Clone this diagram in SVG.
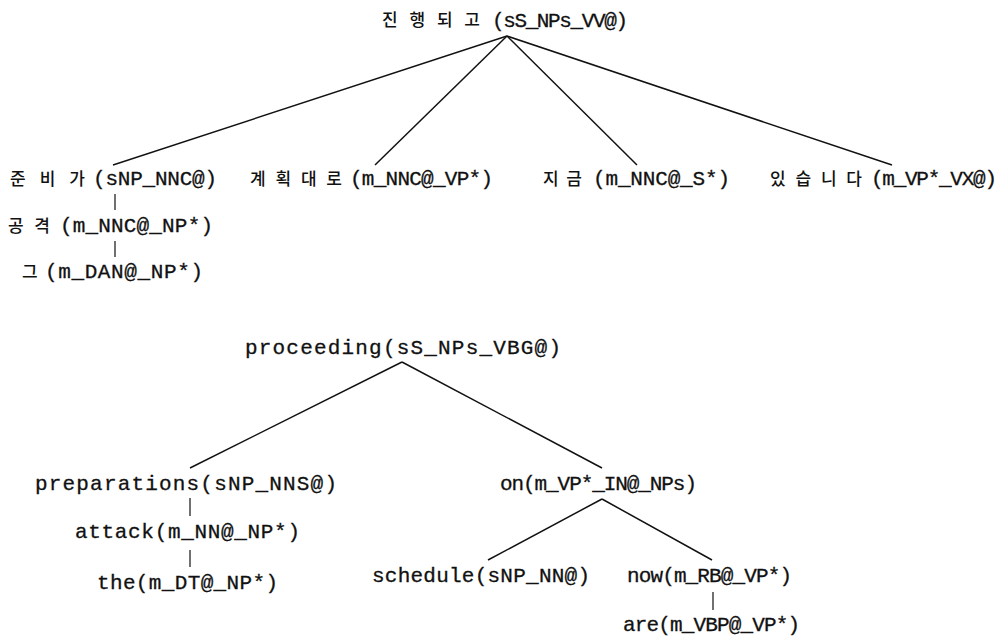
<svg xmlns="http://www.w3.org/2000/svg" width="1006" height="637" viewBox="0 0 1006 637">
<style>
.t{font-family:"Liberation Mono","DejaVu Sans Mono",monospace;font-size:21px;fill:#111;stroke:#111;stroke-width:0.3}
.k{font-family:"Noto Sans CJK KR","Noto Sans",sans-serif;font-size:17px;font-weight:500;fill:#111}
.e{stroke:#111;stroke-width:1.5;fill:none}
.v{stroke:#111;stroke-width:1.2;fill:none}
</style>
<rect width="1006" height="637" fill="#fff"/>
<g id="connectors">
<line class="e" x1="507" y1="36" x2="113" y2="165"/>
<line class="e" x1="507" y1="36" x2="375" y2="165"/>
<line class="e" x1="507" y1="36" x2="637" y2="165"/>
<line class="e" x1="507" y1="36" x2="892" y2="165"/>
<line class="v" x1="115" y1="194" x2="115" y2="210"/>
<line class="v" x1="115" y1="241" x2="115" y2="257"/>
<line class="e" x1="402" y1="362" x2="190" y2="468"/>
<line class="e" x1="402" y1="362" x2="602" y2="468"/>
<line class="v" x1="190" y1="498" x2="190" y2="516"/>
<line class="v" x1="190" y1="550" x2="190" y2="567"/>
<line class="e" x1="602" y1="499" x2="488" y2="560"/>
<line class="e" x1="602" y1="499" x2="712" y2="560"/>
<line class="v" x1="713" y1="592" x2="713" y2="610"/>
</g>
<g id="n-root-ko"><text class="k" x="382" y="26" textLength="98" lengthAdjust="spacing">진행되고</text><text class="t" x="492" y="27" textLength="136" lengthAdjust="spacing">(sS_NPs_VV@)</text></g>
<g id="n-junbiga"><text class="k" x="10" y="185" textLength="75" lengthAdjust="spacing">준비가</text><text class="t" x="93" y="185" textLength="124" lengthAdjust="spacing">(sNP_NNC@)</text></g>
<g id="n-gyehoek"><text class="k" x="250" y="185" textLength="92" lengthAdjust="spacing">계획대로</text><text class="t" x="350" y="185" textLength="143" lengthAdjust="spacing">(m_NNC@_VP*)</text></g>
<g id="n-jigeum"><text class="k" x="543" y="185" textLength="39" lengthAdjust="spacing">지금</text><text class="t" x="593" y="185" textLength="137" lengthAdjust="spacing">(m_NNC@_S*)</text></g>
<g id="n-itseumnida"><text class="k" x="770" y="185" textLength="92" lengthAdjust="spacing">있습니다</text><text class="t" x="871" y="185" textLength="126" lengthAdjust="spacing">(m_VP*_VX@)</text></g>
<g id="n-gonggyeok"><text class="k" x="8" y="232" textLength="42" lengthAdjust="spacing">공격</text><text class="t" x="60" y="232" textLength="153" lengthAdjust="spacing">(m_NNC@_NP*)</text></g>
<g id="n-geu"><text class="k" x="22" y="278">그</text><text class="t" x="45" y="278" textLength="158" lengthAdjust="spacing">(m_DAN@_NP*)</text></g>
<g id="n-proceeding"><text class="t" x="245" y="354" textLength="316" lengthAdjust="spacing">proceeding(sS_NPs_VBG@)</text></g>
<g id="n-preparations"><text class="t" x="35" y="490" textLength="302" lengthAdjust="spacing">preparations(sNP_NNS@)</text></g>
<g id="n-attack"><text class="t" x="75" y="538" textLength="225" lengthAdjust="spacing">attack(m_NN@_NP*)</text></g>
<g id="n-the"><text class="t" x="97" y="589" textLength="181" lengthAdjust="spacing">the(m_DT@_NP*)</text></g>
<g id="n-on"><text class="t" x="500" y="490" textLength="197" lengthAdjust="spacing">on(m_VP*_IN@_NPs)</text></g>
<g id="n-schedule"><text class="t" x="372" y="582" textLength="218" lengthAdjust="spacing">schedule(sNP_NN@)</text></g>
<g id="n-now"><text class="t" x="627" y="582" textLength="165" lengthAdjust="spacing">now(m_RB@_VP*)</text></g>
<g id="n-are"><text class="t" x="623" y="631" textLength="177" lengthAdjust="spacing">are(m_VBP@_VP*)</text></g>
</svg>
